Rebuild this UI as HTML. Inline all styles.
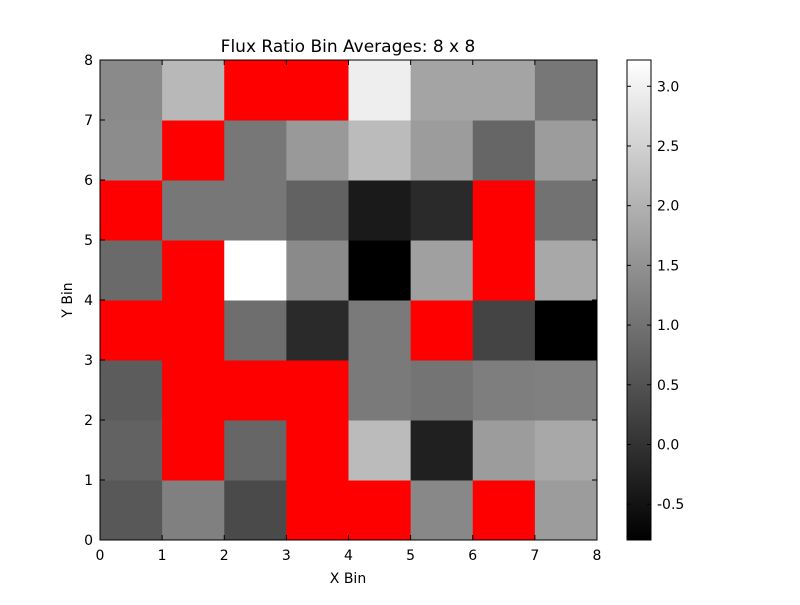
<!DOCTYPE html>
<html><head><meta charset="utf-8"><style>
body{margin:0;background:#fff;}
svg text{font-family:"DejaVu Sans","Liberation Sans",sans-serif;fill:#000;}
</style></head><body>
<svg id="chart" width="800" height="600" viewBox="0 0 800 600">
<rect width="800" height="600" fill="#fff"/>
<text x="348" y="52" font-size="17" text-anchor="middle">Flux Ratio Bin Averages: 8 x 8</text>
<g id="cells"></g>
<g id="axes"></g>
<text x="348" y="583" font-size="14" text-anchor="middle">X Bin</text>
<text x="0" y="0" font-size="14" text-anchor="middle" transform="translate(72,300) rotate(-90)">Y Bin</text>
<defs><linearGradient id="cg" x1="0" y1="1" x2="0" y2="0"><stop offset="0" stop-color="#000"/><stop offset="1" stop-color="#fff"/></linearGradient></defs>
<rect x="627" y="60" width="24" height="480" fill="url(#cg)" stroke="#000" stroke-width="1"/>
<g id="cbticks"></g>
</svg>
<script>
// rows from y=0 (bottom) to y=7 (top); null = masked (red)
const xBins = [0,1,2,3,4,5,6,7];
const yBins = [0,1,2,3,4,5,6,7];
const row0 = [0.59, 1.22, 0.37, null, null, 1.34, null, 1.66];
const row1 = [0.74, null, 0.81, null, 2.15, -0.30, 1.66, 1.85];
const row2 = [0.65, null, null, null, 1.12, 1.03, 1.19, 1.22];
const row3 = [null, null, 0.93, -0.14, 1.12, null, 0.27, -0.80];
const row4 = [0.87, null, 3.22, 1.375, -0.80, 1.72, null, 1.85];
const row5 = [null, 1.075, 1.075, 0.74, -0.39, -0.14, null, 1.0];
const row6 = [1.41, null, 1.075, 1.61, 2.15, 1.66, 0.81, 1.66];
const row7 = [1.375, 2.10, null, null, 2.95, 1.785, 1.785, 1.075];
const rows = [row0,row1,row2,row3,row4,row5,row6,row7];
const xTicks = [0,1,2,3,4,5,6,7,8];
const yTicks = [0,1,2,3,4,5,6,7,8];
const cbTicks = [-0.5,0.0,0.5,1.0,1.5,2.0,2.5,3.0];
const vmin = -0.80, vmax = 3.22;

const NS="http://www.w3.org/2000/svg";
const X0=100,X1=597,Y0=540,Y1=60;
const sx=v=>X0+(X1-X0)*v/8;
const sy=v=>Y0-(Y0-Y1)*v/8;
const cy=v=>540-480*(v-vmin)/(vmax-vmin);
function mk(t,a,p){const e=document.createElementNS(NS,t);for(const k in a)e.setAttribute(k,a[k]);p.appendChild(e);return e;}
const cells=document.getElementById('cells');
rows.forEach((r,j)=>r.forEach((v,i)=>{
  let fill='#ff0000';
  if(v!==null){const g=Math.round(Math.max(0,Math.min(1,(v-vmin)/(vmax-vmin)))*255);fill=`rgb(${g},${g},${g})`;}
  const x=sx(xBins[i]),y=sy(yBins[j]+1);
  const e=mk('rect',{x:x,y:y,width:sx(xBins[i]+1)-x+0.5,height:sy(yBins[j])-y+0.5,fill:fill},cells);
  
  
}));
const ax=document.getElementById('axes');
mk('rect',{x:X0,y:Y1,width:X1-X0,height:Y0-Y1,fill:'none',stroke:'#000','stroke-width':1},ax);
xTicks.forEach(t=>{const x=sx(t);
  mk('line',{x1:x,y1:Y0,x2:x,y2:Y0-5,stroke:'#000'},ax);
  mk('line',{x1:x,y1:Y1,x2:x,y2:Y1+5,stroke:'#000'},ax);
  const tx=mk('text',{x:x,y:Y0+20,'font-size':14,'text-anchor':'middle'},ax);tx.textContent=t;
  
  
});
yTicks.forEach(t=>{const y=sy(t);
  mk('line',{x1:X0,y1:y,x2:X0+5,y2:y,stroke:'#000'},ax);
  mk('line',{x1:X1,y1:y,x2:X1-5,y2:y,stroke:'#000'},ax);
  const tx=mk('text',{x:X0-7,y:y+5,'font-size':14,'text-anchor':'end'},ax);tx.textContent=t;
  
  
});
const cb=document.getElementById('cbticks');
cbTicks.forEach(t=>{const y=cy(t);
  mk('line',{x1:651,y1:y,x2:647,y2:y,stroke:'#000'},cb);
  mk('line',{x1:627,y1:y,x2:631,y2:y,stroke:'#000'},cb);
  const tx=mk('text',{x:657,y:y+5,'font-size':14},cb);tx.textContent=t.toFixed(1);
  
  
});
</script>
</body></html>
